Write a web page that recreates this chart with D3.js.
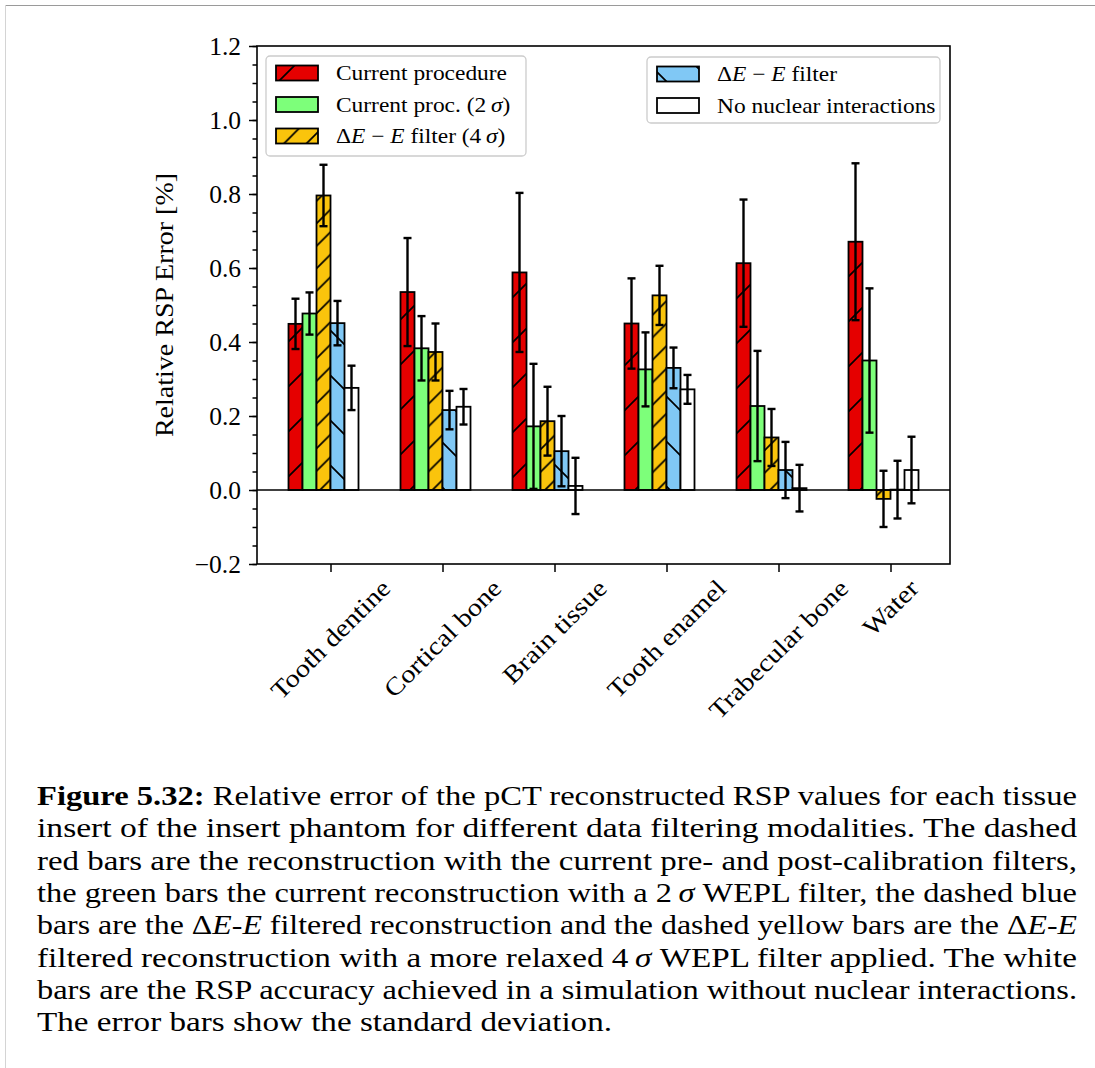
<!DOCTYPE html>
<html>
<head>
<meta charset="utf-8">
<script src="https://cdn.jsdelivr.net/npm/d3@7"></script>
<style>
  body { margin: 0; background: #fff; }
  svg { display: block; }
</style>
</head>
<body>
<script>
// tissue inserts and values (relative RSP error in %)
var categories = ["Tooth dentine", "Cortical bone", "Brain tissue", "Tooth enamel", "Trabecular bone", "Water"];

var currentProc    = [0.449, 0.535, 0.588, 0.450, 0.613, 0.671];
var currentProcErr = [0.068, 0.146, 0.215, 0.122, 0.172, 0.212];
var current2s      = [0.477, 0.383, 0.172, 0.326, 0.227, 0.350];
var current2sErr   = [0.057, 0.087, 0.169, 0.100, 0.149, 0.195];
var dee4s          = [0.796, 0.373, 0.186, 0.526, 0.142, -0.024];
var dee4sErr       = [0.083, 0.077, 0.093, 0.080, 0.077, 0.076];
var dee            = [0.451, 0.216, 0.105, 0.330, 0.054, 0.001];
var deeErr         = [0.060, 0.052, 0.095, 0.055, 0.076, 0.078];
var noNuc          = [0.276, 0.225, 0.011, 0.272, 0.005, 0.054];
var noNucErr       = [0.060, 0.048, 0.076, 0.039, 0.063, 0.090];

var yTicks = [-0.2, 0.0, 0.2, 0.4, 0.6, 0.8, 1.0, 1.2];

var caption = [
  "Relative error of the pCT reconstructed RSP values for each tissue",
  "insert of the insert phantom for different data filtering modalities.  The dashed",
  "red bars are the reconstruction with the current pre- and post-calibration filters,",
  "the green bars the current reconstruction with a 2\u2009σ WEPL filter, the dashed blue",
  "bars are the ΔE-E filtered reconstruction and the dashed yellow bars are the ΔE-E",
  "filtered reconstruction with a more relaxed 4\u2009σ WEPL filter applied.  The white",
  "bars are the RSP accuracy achieved in a simulation without nuclear interactions.",
  "The error bars show the standard deviation."
];

var SERIF = '"Liberation Serif", "Times New Roman", Times, serif';

var W = 1095, H = 1068;
var margin = {top: 46, right: 145, bottom: 504, left: 257};
var width = W - margin.left - margin.right;
var height = H - margin.top - margin.bottom;

var barW = 0.125;
var series = [
  {name: "Current procedure", vals: currentProc, errs: currentProcErr, color: "#e50000", hatch: "hatchRed", off: -3},
  {name: "Current proc. (2σ)", vals: current2s, errs: current2sErr, color: "#7dff7a", hatch: null, off: -2},
  {name: "ΔE − E filter (4σ)", vals: dee4s, errs: dee4sErr, color: "#fac40c", hatch: "hatchYellow", off: -1},
  {name: "ΔE − E filter", vals: dee, errs: deeErr, color: "#80c8f5", hatch: "hatchBlue", off: 0},
  {name: "No nuclear interactions", vals: noNuc, errs: noNucErr, color: "#ffffff", hatch: null, off: 1}
];

// stretch Times a bit so it reads as wide as Computer Modern
function widen(sel, k) {
  sel.each(function() {
    var len = this.getComputedTextLength();
    d3.select(this).attr("textLength", len * k).attr("lengthAdjust", "spacingAndGlyphs");
  });
}

var svg = d3.select("body").append("svg").attr("width", W).attr("height", H);
svg.append("rect").attr("width", W).attr("height", H).attr("fill", "#fff");

// page frame
svg.append("line").attr("x1", 5).attr("x2", W).attr("y1", 5.5).attr("y2", 5.5)
  .attr("stroke", "#9a9a9a").attr("stroke-width", 1);
svg.append("line").attr("x1", 5.5).attr("x2", 5.5).attr("y1", 5).attr("y2", H)
  .attr("stroke", "#d4d4d4").attr("stroke-width", 1);

// hatch patterns
var defs = svg.append("defs");
function hatch(id, size, dir) {
  var p = defs.append("pattern").attr("id", id).attr("patternUnits", "userSpaceOnUse")
    .attr("width", size).attr("height", size);
  var d = dir > 0
    ? "M0," + size + "L" + size + ",0M-2,2L2,-2M" + (size - 2) + "," + (size + 2) + "L" + (size + 2) + "," + (size - 2)
    : "M0,0L" + size + "," + size + "M-2," + (size - 2) + "L2," + (size + 2) + "M" + (size - 2) + ",-2L" + (size + 2) + ",2";
  p.append("path").attr("d", d).attr("stroke", "#000").attr("stroke-width", 1.7);
}
hatch("hatchRed", 45, 1);
hatch("hatchYellow", 22.5, 1);
hatch("hatchBlue", 45, -1);

var x = d3.scaleLinear()
  .domain([-3 * barW - 0.28125, 5 + 2 * barW + 0.28125])
  .range([0, width]);
var y = d3.scaleLinear().domain([-0.2, 1.2]).range([height, 0]);

var g = svg.append("g").attr("transform", "translate(" + margin.left + "," + margin.top + ")");

// bars
series.forEach(function(s) {
  var bars = g.append("g");
  var bx = function(d, i) { return x(i + s.off * barW); };
  var by = function(d) { return y(Math.max(0, d)); };
  var bh = function(d) { return Math.abs(y(d) - y(0)); };
  bars.selectAll("rect.fill").data(s.vals).enter().append("rect")
    .attr("x", bx).attr("width", x(barW) - x(0)).attr("y", by).attr("height", bh)
    .attr("fill", s.color);
  if (s.hatch) {
    // pattern is anchored to the page, like matplotlib's hatching
    bars.selectAll("rect.h").data(s.vals).enter().append("rect")
      .attr("transform", "translate(" + (-margin.left) + "," + (-margin.top) + ")")
      .attr("x", function(d, i) { return margin.left + bx(d, i); })
      .attr("width", x(barW) - x(0))
      .attr("y", function(d) { return margin.top + by(d); })
      .attr("height", bh)
      .attr("fill", "url(#" + s.hatch + ")");
  }
  bars.selectAll("rect.edge").data(s.vals).enter().append("rect")
    .attr("x", bx).attr("width", x(barW) - x(0)).attr("y", by).attr("height", bh)
    .attr("fill", "none").attr("stroke", "#000").attr("stroke-width", 1.8);
});

// zero line
g.append("line").attr("x1", 0).attr("x2", width).attr("y1", y(0)).attr("y2", y(0))
  .attr("stroke", "#000").attr("stroke-width", 1.5);

// error bars
series.forEach(function(s) {
  var eb = g.append("g").attr("stroke", "#000").attr("stroke-width", 2.4);
  s.vals.forEach(function(v, i) {
    var cx = x(i + (s.off + 0.5) * barW);
    var e = s.errs[i];
    eb.append("line").attr("x1", cx).attr("x2", cx).attr("y1", y(v + e)).attr("y2", y(v - e));
    eb.append("line").attr("x1", cx - 4).attr("x2", cx + 4).attr("y1", y(v + e)).attr("y2", y(v + e));
    eb.append("line").attr("x1", cx - 4).attr("x2", cx + 4).attr("y1", y(v - e)).attr("y2", y(v - e));
  });
});

// axes
var fmt = function(d) { return d3.format(".1f")(d).replace("-", "\u2212"); };
var yAxis = g.append("g").call(d3.axisLeft(y).tickValues(yTicks).tickFormat(fmt).tickSize(8).tickPadding(8));
g.append("g").call(d3.axisLeft(y).tickValues(d3.range(-0.2, 1.2001, 0.05)).tickFormat("").tickSize(4.5))
  .select(".domain").remove();
yAxis.selectAll("text").attr("font-size", null).style("font-family", SERIF).style("font-size", "25.5px")
  .attr("dy", "0.34em");

g.append("g").attr("transform", "translate(0," + height + ")")
  .call(d3.axisBottom(x).tickValues(d3.range(0, 6)).tickFormat("").tickSize(8));
g.selectAll(".domain").remove();
g.selectAll(".tick line").attr("stroke", "#000").attr("stroke-width", 1.5);

g.append("rect").attr("width", width).attr("height", height)
  .attr("fill", "none").attr("stroke", "#000").attr("stroke-width", 1.6);

// rotated category labels, centred under each tick
categories.forEach(function(c, i) {
  var t = g.append("text").text(c)
    .style("font-family", SERIF).style("font-size", "25px")
    .attr("text-anchor", "middle").attr("dominant-baseline", "central");
  widen(t, 1.14);
  var len = +t.attr("textLength");
  var half = (len + 22) / Math.SQRT2 / 2;
  t.attr("transform", "translate(" + x(i) + "," + (height + 12 + half) + ") rotate(-45)");
});

// y label
var yl = g.append("text").text("Relative RSP Error [%]")
  .style("font-family", SERIF).style("font-size", "25px")
  .attr("text-anchor", "middle")
  .attr("transform", "translate(-84," + (height / 2) + ") rotate(-90)");
widen(yl, 1.12);

// legends
function mathName(t, name) {
  if (name.indexOf("Δ") === 0) {
    t.append("tspan").text("Δ");
    t.append("tspan").text("E").style("font-style", "italic");
    t.append("tspan").text(" \u2212 ");
    t.append("tspan").text("E").style("font-style", "italic");
    if (name.indexOf("4σ") > 0) {
      t.append("tspan").text(" filter (4\u2009");
      t.append("tspan").text("σ").style("font-style", "italic");
      t.append("tspan").text(")");
    } else {
      t.append("tspan").text(" filter");
    }
  } else if (name.indexOf("2σ") > 0) {
    t.append("tspan").text("Current proc. (2\u2009");
    t.append("tspan").text("σ").style("font-style", "italic");
    t.append("tspan").text(")");
  } else {
    t.text(name);
  }
}

function legend(items, bx, by, bw, bh) {
  var lg = svg.append("g");
  lg.append("rect").attr("x", bx).attr("y", by).attr("width", bw).attr("height", bh)
    .attr("rx", 4).attr("fill", "#fff").attr("fill-opacity", 0.8)
    .attr("stroke", "#cccccc").attr("stroke-width", 1.3);
  items.forEach(function(s, k) {
    var cy = by + 17 + k * 31.5;
    var px = bx + 10;
    lg.append("rect").attr("x", px).attr("y", cy - 7.5).attr("width", 42).attr("height", 15)
      .attr("fill", s.color);
    if (s.hatch) {
      lg.append("rect").attr("x", px).attr("y", cy - 7.5).attr("width", 42).attr("height", 15)
        .attr("fill", "url(#" + s.hatch + ")");
    }
    lg.append("rect").attr("x", px).attr("y", cy - 7.5).attr("width", 42).attr("height", 15)
      .attr("fill", "none").attr("stroke", "#000").attr("stroke-width", 1.8);
    var t = lg.append("text").attr("x", px + 60).attr("y", cy + 7)
      .style("font-family", SERIF).style("font-size", "21px");
    mathName(t, s.name);
    widen(t, 1.115);
  });
}
legend(series.slice(0, 3), 266, 56, 260, 100);
legend(series.slice(3), 647, 57, 293, 66);

// caption, justified to the text block width
var capTop = 805, capStep = 32.3;
caption.forEach(function(line, k) {
  var t = svg.append("text").attr("x", 37).attr("y", capTop + k * capStep)
    .style("font-family", SERIF).style("font-size", "28px");
  if (k === 0) t.append("tspan").text("Figure 5.32: ").style("font-weight", "bold");
  var parts = line.split(/(σ|E(?=[- ]|$))/);
  parts.forEach(function(p) {
    if (p === "σ" || p === "E") t.append("tspan").text(p).style("font-style", "italic");
    else if (p) t.append("tspan").text(p);
  });
  var target = k === caption.length - 1 ? 575 : 1040;
  t.attr("textLength", target).attr("lengthAdjust", "spacingAndGlyphs");
});
</script>
</body>
</html>
